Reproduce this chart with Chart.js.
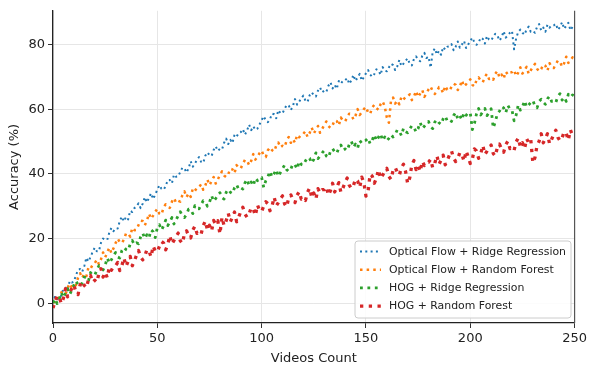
<!DOCTYPE html>
<html>
<head>
<meta charset="utf-8">
<script src="https://cdn.jsdelivr.net/npm/chart.js@4.4.1/dist/chart.umd.min.js"></script>
<style>
  html, body { margin: 0; padding: 0; background: #fff; }
  #wrap { width: 590px; height: 369px; position: relative; }
</style>
</head>
<body>
<div id="wrap"><canvas id="c" width="590" height="369"></canvas></div>
<script>
// ---- data ----
const videoCounts = Array.from({ length: 251 }, (_, i) => i);
const xTicks = [0, 50, 100, 150, 200, 250];
const yTicks = [0, 20, 40, 60, 80];
const seriesNames = [
  'Optical Flow + Ridge Regression',
  'Optical Flow + Random Forest',
  'HOG + Ridge Regression',
  'HOG + Random Forest'
];
const ofRidge = [
  0.0, 2.2, 1.3, 1.2, 2.5, 4.6, 4.8, 4.0, 6.9, 6.4,
  6.7, 8.6, 10.3, 10.6, 9.7, 11.5, 14.1, 12.9, 14.3, 15.9,
  17.2, 16.1, 16.1, 18.7, 20.0, 19.6, 19.6, 21.9, 23.3, 22.3,
  23.2, 23.1, 25.4, 26.8, 25.3, 26.7, 25.9, 28.6, 28.2, 29.4,
  29.9, 30.9, 29.4, 30.8, 32.8, 31.2, 32.6, 34.0, 32.2, 33.6,
  35.1, 36.5, 35.4, 35.1, 36.2, 38.1, 38.1, 37.1, 39.8, 39.1,
  39.2, 40.6, 41.9, 41.7, 40.4, 41.7, 43.9, 42.2, 43.2, 44.3,
  45.2, 43.7, 43.4, 45.6, 46.6, 45.8, 45.5, 47.4, 48.5, 47.1,
  47.7, 47.5, 49.6, 50.9, 49.2, 50.5, 49.5, 52.1, 51.5, 52.6,
  52.9, 53.8, 52.1, 53.4, 55.2, 53.5, 54.7, 53.6, 54.0, 55.3,
  56.6, 57.8, 56.5, 56.0, 56.9, 58.6, 58.4, 57.2, 59.7, 58.8,
  58.7, 60.1, 61.3, 61.1, 59.7, 61.0, 63.1, 61.4, 62.3, 63.4,
  64.2, 62.6, 62.2, 64.3, 65.2, 64.3, 63.9, 65.7, 66.7, 65.2,
  65.7, 65.3, 67.2, 68.3, 66.4, 67.5, 66.3, 68.7, 67.9, 68.8,
  68.9, 69.6, 67.8, 68.9, 70.6, 68.7, 69.8, 70.9, 68.8, 69.9,
  71.1, 72.1, 70.7, 70.0, 70.8, 72.3, 72.0, 70.6, 73.0, 71.9,
  71.7, 72.9, 74.0, 73.6, 72.1, 73.2, 75.2, 73.3, 74.1, 75.0,
  75.7, 74.0, 73.5, 75.5, 76.3, 75.3, 74.8, 76.5, 77.4, 75.8,
  76.2, 72.8, 77.7, 78.8, 76.9, 78.0, 76.8, 79.2, 78.4, 79.3,
  79.4, 80.1, 78.2, 79.3, 80.9, 79.0, 80.0, 81.1, 78.9, 80.0,
  81.1, 82.1, 80.6, 79.9, 80.6, 82.1, 81.7, 80.3, 82.6, 81.5,
  81.2, 82.3, 83.3, 82.8, 81.2, 82.2, 84.1, 82.1, 82.8, 83.6,
  84.2, 78.5, 81.9, 83.9, 84.6, 83.6, 83.0, 84.7, 85.5, 83.9,
  84.2, 83.6, 85.4, 86.3, 84.3, 85.2, 83.9, 86.1, 85.2, 85.9,
  85.9, 86.4, 84.5, 85.4, 86.9, 84.8, 85.8, 86.7, 84.4, 85.4,
  85.0
];
const ofForest = [
  0.3, 0.4, 0.6, 2.2, 3.4, 2.8, 2.7, 4.8, 6.1, 4.9,
  5.7, 5.6, 7.9, 9.3, 7.8, 9.2, 8.4, 11.1, 10.7, 11.9,
  12.4, 13.5, 12.1, 13.6, 15.7, 14.2, 15.7, 17.2, 15.5, 17.0,
  18.6, 20.0, 18.9, 18.6, 19.7, 21.6, 21.6, 20.6, 23.3, 22.6,
  22.7, 24.2, 25.5, 25.4, 24.1, 25.5, 27.7, 26.1, 27.1, 28.3,
  29.2, 27.7, 27.4, 29.6, 30.6, 29.8, 29.5, 31.4, 32.5, 31.1,
  31.7, 31.4, 33.4, 34.6, 32.8, 34.0, 32.9, 35.4, 34.7, 35.7,
  35.9, 36.8, 35.1, 36.4, 38.2, 36.5, 37.7, 39.0, 37.0, 38.3,
  39.6, 40.8, 39.5, 39.0, 39.9, 41.6, 41.4, 40.2, 42.7, 41.8,
  41.7, 43.1, 44.3, 44.1, 42.7, 44.0, 46.1, 44.4, 45.3, 46.4,
  47.2, 45.6, 45.2, 47.3, 48.2, 47.3, 46.9, 48.7, 49.7, 48.2,
  48.7, 48.3, 50.3, 51.4, 49.6, 50.7, 49.6, 52.0, 51.3, 52.2,
  52.4, 53.2, 51.4, 52.6, 54.3, 52.5, 53.6, 54.8, 52.7, 53.9,
  55.1, 56.2, 54.8, 54.2, 55.0, 56.6, 56.3, 55.0, 57.4, 56.4,
  56.2, 57.5, 58.6, 58.3, 56.8, 58.0, 60.0, 58.2, 59.0, 60.0,
  60.7, 59.0, 58.5, 60.5, 61.3, 60.3, 59.8, 61.5, 62.4, 60.8,
  57.4, 55.8, 62.6, 63.6, 61.7, 62.7, 61.5, 63.8, 63.0, 63.8,
  63.9, 64.6, 62.8, 63.9, 65.6, 63.7, 64.8, 65.9, 63.8, 64.9,
  66.1, 67.0, 65.5, 64.7, 65.4, 66.8, 66.4, 64.9, 67.2, 66.0,
  65.7, 66.9, 67.9, 67.5, 65.9, 67.0, 68.9, 67.0, 67.7, 68.6,
  69.2, 67.5, 67.0, 69.0, 69.8, 68.8, 68.3, 70.0, 70.9, 69.3,
  69.7, 69.1, 70.9, 71.8, 69.8, 70.7, 69.4, 71.6, 70.7, 71.4,
  71.4, 72.1, 70.2, 71.3, 72.9, 71.0, 72.0, 73.1, 70.9, 72.0,
  73.1, 74.0, 72.5, 71.7, 72.4, 73.8, 73.4, 71.9, 74.2, 73.0,
  72.7, 73.9, 75.0, 74.6, 73.1, 74.2, 76.2, 74.3, 75.1, 76.0,
  75.5
];
const hogRidge = [
  0.1, 1.4, -0.1, 1.3, 3.3, 1.7, 3.1, 4.5, 2.7, 4.1,
  5.6, 6.9, 5.7, 5.3, 6.3, 8.1, 8.0, 6.9, 9.5, 8.7,
  8.7, 10.2, 11.6, 11.5, 10.3, 11.7, 14.0, 12.4, 13.5, 14.7,
  15.7, 14.3, 14.0, 16.3, 17.3, 16.6, 16.3, 18.3, 19.4, 18.1,
  18.7, 18.4, 20.5, 21.7, 20.0, 21.2, 20.2, 22.7, 22.1, 20.3,
  23.4, 24.3, 22.6, 23.9, 25.7, 24.0, 25.2, 26.5, 24.5, 25.8,
  27.1, 28.3, 27.0, 26.5, 27.4, 29.1, 28.9, 27.7, 30.2, 29.3,
  29.2, 30.5, 31.7, 31.4, 30.0, 31.2, 33.3, 31.5, 32.4, 33.4,
  34.2, 32.6, 32.2, 34.3, 35.2, 34.3, 33.9, 35.7, 36.7, 35.2,
  35.7, 35.3, 37.2, 38.3, 36.4, 37.5, 36.3, 38.7, 37.9, 38.8,
  38.9, 35.8, 37.9, 39.1, 40.8, 39.0, 40.1, 41.3, 39.2, 40.4,
  41.6, 42.7, 41.3, 40.7, 41.5, 43.1, 42.8, 41.5, 43.9, 42.9,
  42.7, 44.0, 45.1, 44.8, 43.3, 44.5, 46.5, 44.7, 45.5, 46.5,
  47.2, 45.5, 45.0, 47.0, 47.8, 46.8, 46.3, 48.0, 48.9, 47.3,
  47.7, 47.2, 49.1, 50.1, 48.2, 49.2, 48.0, 50.3, 49.5, 50.3,
  50.4, 51.1, 49.3, 50.4, 52.1, 50.2, 51.3, 52.4, 50.3, 51.4,
  50.2, 51.0, 52.1, 51.4, 52.1, 53.6, 53.2, 51.8, 54.1, 53.0,
  52.7, 53.9, 54.9, 54.5, 52.9, 54.0, 55.9, 54.0, 54.7, 55.6,
  56.2, 54.5, 54.0, 56.0, 56.8, 55.8, 55.3, 57.0, 57.9, 56.3,
  56.7, 56.2, 58.0, 59.0, 57.0, 58.0, 56.7, 59.0, 58.1, 58.9,
  58.9, 53.7, 55.6, 58.6, 60.2, 58.2, 59.2, 60.2, 58.0, 59.0,
  60.1, 54.2, 56.0, 58.7, 59.4, 60.8, 60.4, 58.9, 61.2, 60.0,
  59.7, 56.4, 58.2, 61.3, 59.7, 60.7, 62.6, 60.6, 61.3, 62.1,
  62.7, 61.0, 60.4, 62.4, 63.1, 62.1, 61.5, 63.2, 64.0, 62.4,
  62.7, 62.1, 63.9, 64.8, 62.8, 63.7, 62.4, 64.6, 63.7, 64.4,
  64.0
];
const hogForest = [
  -1.5, 0.7, 2.3, 1.9, -0.1, 1.6, 4.5, 2.0, 3.2, 4.6,
  5.7, 3.4, 2.7, 5.7, 6.8, 5.5, 4.8, 7.3, 8.6, 6.5,
  7.1, 6.5, 9.2, 10.7, 8.1, 9.6, 7.9, 11.3, 10.2, 11.4,
  11.6, 12.6, 10.1, 11.6, 14.0, 11.4, 12.9, 14.5, 11.6, 13.1,
  14.8, 16.3, 14.3, 13.4, 14.5, 16.6, 16.2, 14.3, 17.7, 16.1,
  15.9, 17.6, 19.1, 18.6, 16.5, 18.1, 20.9, 18.3, 19.4, 20.7,
  21.7, 19.3, 18.5, 21.4, 22.4, 21.0, 20.2, 22.6, 23.8, 21.6,
  22.1, 21.4, 24.0, 25.4, 22.7, 24.1, 22.3, 25.6, 24.4, 25.5,
  21.4, 26.6, 24.0, 25.5, 27.8, 25.2, 26.6, 28.2, 25.2, 26.7,
  28.3, 29.7, 27.6, 26.6, 27.6, 29.6, 29.1, 27.1, 30.4, 28.7,
  28.4, 30.0, 31.4, 30.8, 28.6, 30.1, 32.8, 30.1, 31.1, 32.3,
  33.2, 30.7, 29.8, 32.6, 33.5, 32.0, 31.1, 33.4, 34.5, 32.2,
  32.6, 31.8, 34.3, 35.6, 32.8, 34.1, 32.2, 35.4, 34.1, 35.1,
  35.1, 36.0, 33.4, 34.8, 37.1, 34.4, 35.8, 37.3, 34.3, 35.7,
  37.3, 38.7, 36.5, 35.5, 36.4, 38.4, 37.8, 35.8, 39.0, 37.3,
  33.1, 34.5, 39.9, 39.3, 37.1, 38.6, 41.3, 38.6, 39.6, 40.8,
  41.7, 39.2, 38.3, 41.1, 42.0, 40.5, 39.6, 41.9, 43.0, 40.7,
  37.0, 38.8, 42.8, 44.1, 41.3, 42.6, 40.7, 43.9, 42.6, 43.6,
  43.6, 44.5, 41.9, 43.3, 45.6, 42.9, 44.3, 45.8, 42.8, 44.2,
  45.8, 47.1, 44.9, 43.8, 44.7, 46.6, 46.0, 43.9, 47.1, 45.3,
  43.2, 44.6, 47.7, 47.1, 44.8, 46.2, 48.8, 46.0, 47.0, 48.1,
  48.9, 46.3, 45.5, 48.2, 49.2, 47.6, 46.7, 49.0, 50.1, 47.8,
  48.2, 47.3, 49.9, 51.1, 48.4, 49.6, 47.7, 50.9, 49.6, 50.6,
  43.4, 45.0, 48.8, 50.1, 52.4, 49.6, 50.9, 52.4, 49.3, 50.7,
  52.2, 53.5, 51.3, 50.2, 51.1, 53.0, 52.5, 50.4, 53.6, 51.8,
  51.6
];
const seriesValues = [ofRidge, ofForest, hogRidge, hogForest];
const seriesColors = ['#1f77b4', '#ff7f0e', '#2ca02c', '#d62728'];
const seriesWidths = [2, 2.5, 2.8, 3.3];

// ---- chart ----
const FONT = "'DejaVu Sans', sans-serif";
const TEXT = '#222';

const datasets = seriesValues.map((vals, i) => ({
  label: seriesNames[i],
  data: vals.map((v, j) => ({ x: videoCounts[j], y: v })),
  borderColor: seriesColors[i],
  backgroundColor: seriesColors[i],
  borderWidth: seriesWidths[i],
  borderDash: [seriesWidths[i] * 1.0, seriesWidths[i] * 1.65],
  borderCapStyle: 'butt',
  borderJoinStyle: 'round',
  pointRadius: 0,
  tension: 0,
  fill: false,
  order: 3 - i
}));

const extras = {
  id: 'extras',
  afterDraw(chart) {
    const ctx = chart.ctx;
    const a = chart.chartArea;
    // right spine
    ctx.save();
    ctx.strokeStyle = '#555';
    ctx.lineWidth = 1.2;
    ctx.beginPath();
    ctx.moveTo(a.right, a.top);
    ctx.lineTo(a.right, a.bottom);
    ctx.stroke();
    ctx.restore();

    // legend box (bottom-right, inside plot)
    const bx = 355, by = 241, bw = 216, bh = 77, r = 3;
    ctx.save();
    ctx.fillStyle = 'rgba(255,255,255,0.85)';
    ctx.strokeStyle = '#cccccc';
    ctx.lineWidth = 1;
    ctx.beginPath();
    ctx.moveTo(bx + r, by);
    ctx.lineTo(bx + bw - r, by);
    ctx.quadraticCurveTo(bx + bw, by, bx + bw, by + r);
    ctx.lineTo(bx + bw, by + bh - r);
    ctx.quadraticCurveTo(bx + bw, by + bh, bx + bw - r, by + bh);
    ctx.lineTo(bx + r, by + bh);
    ctx.quadraticCurveTo(bx, by + bh, bx, by + bh - r);
    ctx.lineTo(bx, by + r);
    ctx.quadraticCurveTo(bx, by, bx + r, by);
    ctx.closePath();
    ctx.fill();
    ctx.stroke();

    chart.data.datasets.forEach((ds, i) => {
      const y = 251.5 + i * 18.2;
      ctx.save();
      ctx.strokeStyle = ds.borderColor;
      ctx.lineWidth = ds.borderWidth;
      ctx.setLineDash(ds.borderDash);
      ctx.lineCap = 'butt';
      ctx.beginPath();
      ctx.moveTo(360, y);
      ctx.lineTo(381, y);
      ctx.stroke();
      ctx.restore();
      ctx.fillStyle = TEXT;
      ctx.font = '10.9px ' + FONT;
      ctx.textBaseline = 'middle';
      ctx.textAlign = 'left';
      ctx.fillText(ds.label, 389, y + 0.5);
    });
    ctx.restore();
  }
};

new Chart(document.getElementById('c'), {
  type: 'line',
  data: { datasets },
  plugins: [extras],
  options: {
    responsive: false,
    animation: false,
    layout: { padding: { left: 0, right: 14, top: 8, bottom: 0 } },
    plugins: { legend: { display: false }, tooltip: { enabled: false } },
    scales: {
      x: {
        type: 'linear',
        min: 0,
        max: 250,
        afterFit(s) { s.height = 46; },
        afterBuildTicks(s) { s.ticks = xTicks.map(v => ({ value: v })); },
        grid: { color: '#e6e6e6', lineWidth: 1, tickLength: 5, tickColor: '#333', drawTicks: true },
        border: { display: true, color: '#222', width: 1.3 },
        ticks: { color: TEXT, font: { family: FONT, size: 13 }, padding: 3, maxRotation: 0 },
        title: { display: true, text: 'Videos Count', color: TEXT, font: { family: FONT, size: 13 }, padding: { top: 0, bottom: 3 } }
      },
      y: {
        type: 'linear',
        min: -6.1,
        max: 90.4,
        afterFit(s) { s.width = 53; },
        afterBuildTicks(s) { s.ticks = yTicks.map(v => ({ value: v })); },
        grid: { color: '#e6e6e6', lineWidth: 1, tickLength: 5, tickColor: '#333', drawTicks: true },
        border: { display: true, color: '#222', width: 1.3 },
        ticks: { color: TEXT, font: { family: FONT, size: 13 }, padding: 3 },
        title: { display: true, text: 'Accuracy (%)', color: TEXT, font: { family: FONT, size: 13 }, padding: { top: 7, bottom: 0 } }
      }
    }
  }
});
</script>
</body>
</html>
